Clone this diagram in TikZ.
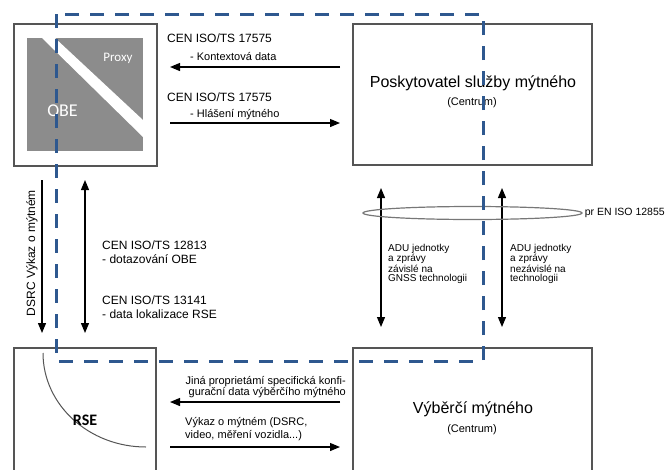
\documentclass[tikz,border=0pt]{standalone}
\usepackage{fontspec}
\setmainfont{Liberation Sans}
\newfontfamily\calibri{Carlito}
\usetikzlibrary{arrows.meta,positioning,shapes.geometric}

\definecolor{dashblue}{RGB}{46,88,143}
\definecolor{boxgray}{RGB}{85,85,85}
\definecolor{obegray}{RGB}{140,140,140}

\tikzset{
  box/.style={draw=boxgray, line width=1.2pt, inner sep=0pt, minimum width=239pt, minimum height=141pt},
  title/.style={inner sep=0pt, font=\fontsize{16}{20}\selectfont},
  centre/.style={inner sep=0pt, font=\fontsize{11}{13}\selectfont},
  arr/.style={-{Triangle[length=10pt,width=8pt]}, line width=1.2pt},
  dblarr/.style={{Triangle[length=10pt,width=8pt]}-{Triangle[length=10pt,width=8pt]}, line width=1.2pt},
  std/.style={anchor=west, inner sep=0pt, align=left, font=\fontsize{12}{14}\selectfont},
  sub/.style={anchor=west, inner sep=0pt, font=\fontsize{11}{12}\selectfont},
  adu/.style={anchor=west, inner sep=0pt, align=left, font=\fontsize{10}{9.4}\selectfont},
  border/.style={draw=dashblue, line width=3pt, dash pattern=on 14pt off 11pt}
}

\begin{document}
\begin{tikzpicture}[x=1pt, y=-1pt]
  \useasboundingbox (0,0) rectangle (672,469);

  % the four parties
  \node[box, minimum width=143pt, minimum height=142pt] (obe) at (85.5,95) {};
  \node[box] (provider) at (472.5,94.5) {};
  \node[box, minimum width=142pt] (rse) at (85,418.5) {};
  \node[box] (charger) at (472.5,418.5) {};
  \node[title] (provider title) at (473,83) {Poskytovatel služby mýtného};
  \node[centre] (provider centre) at (472,103) {(Centrum)};
  \node[title] (charger title) at (473,409) {Výběrčí mýtného};
  \node[centre] (charger centre) at (472,430) {(Centrum)};

  % OBE picture
  \fill[obegray] (27,38) rectangle (143,151);
  \fill[white] (42,38) -- (55,38) -- (143,120) -- (143,137) -- cycle;
  \node[text=white, font=\calibri\fontsize{13}{15}\selectfont] (proxy) at (118,58) {Proxy};
  \node[text=white, font=\calibri\fontsize{18}{20}\selectfont] (obe label) at (62.5,111) {OBE};

  % RSE picture
  \draw[boxgray, line width=1pt] (43,353) arc[start angle=180, end angle=90, x radius=103, y radius=94];
  \node[font=\calibri\bfseries\fontsize{16}{18}\selectfont] (rse label) at (85,420) {RSE};

  % OBE <-> provider
  \coordinate (context start) at (340,67);
  \coordinate (context end) at (170,67);
  \coordinate (report start) at (170,123);
  \coordinate (report end) at (340,123);
  \draw[arr] (context start) -- (context end);
  \draw[arr] (report start) -- (report end);
  \node[std] (cen context) at (167,38) {CEN ISO/TS 17575};
  \node[sub] (context) at (190,57) {- Kontextová data};
  \node[std] (cen report) at (167,97) {CEN ISO/TS 17575};
  \node[sub] (report) at (190,115) {- Hlášení mýtného};

  % OBE <-> RSE
  \coordinate (dsrc start) at (42,180);
  \coordinate (dsrc end) at (42,333);
  \coordinate (query top) at (85,180);
  \coordinate (query bottom) at (85,333);
  \draw[arr] (dsrc start) -- (dsrc end);
  \draw[dblarr] (query top) -- (query bottom);
  \node[std, anchor=center, rotate=90] (dsrc) at (32,253) {DSRC Výkaz o mýtném};
  \node[std] (cen query) at (102,252) {CEN ISO/TS 12813\\- dotazování OBE};
  \node[std] (cen location) at (102,307.5) {CEN ISO/TS 13141\\- data lokalizace RSE};

  % provider <-> charger
  \coordinate (gnss top) at (381,188);
  \coordinate (gnss bottom) at (381,327);
  \coordinate (indep top) at (502,188);
  \coordinate (indep bottom) at (502,327);
  \draw[dblarr] (gnss top) -- (gnss bottom);
  \draw[dblarr] (indep top) -- (indep bottom);
  \node[draw=boxgray!80, line width=1.2pt, ellipse, inner sep=0pt, minimum width=219pt, minimum height=13pt] (ring) at (472.5,213) {};
  \node[sub, font=\fontsize{10.5}{12}\selectfont, right=2pt of ring] (iso) {pr EN ISO 12855};
  \node[adu] (gnss) at (388,264) {ADU jednotky\\a zprávy\\závislé na\\GNSS technologii};
  \node[adu] (indep) at (510,264) {ADU jednotky\\a zprávy\\nezávislé na\\technologii};

  % RSE <-> charger
  \coordinate (config start) at (340,402);
  \coordinate (config end) at (170,402);
  \coordinate (evidence start) at (170,447);
  \coordinate (evidence end) at (340,447);
  \draw[arr] (config start) -- (config end);
  \draw[arr] (evidence start) -- (evidence end);
  \node[sub, anchor=east, align=right, font=\fontsize{11}{11}\selectfont] (config) at (346,387.5) {Jiná proprietámí specifická konfi-\\gurační data výběrčího mýtného};
  \node[sub, align=left, font=\fontsize{11}{13}\selectfont] (evidence) at (185,429.5) {Výkaz o mýtném (DSRC,\\video, měření vozidla...)};

  % domain border
  \draw[border] (56,14) rectangle (483,361);
\end{tikzpicture}
\end{document}
